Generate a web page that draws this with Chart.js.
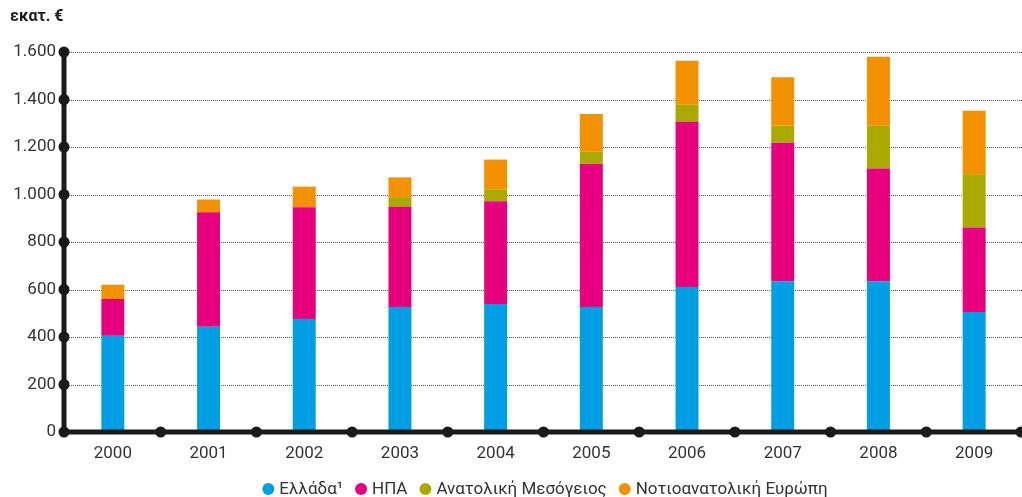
<!DOCTYPE html>
<html>
<head>
<meta charset="utf-8">
<script src="https://cdn.jsdelivr.net/npm/chart.js@4"></script>
<style>
  html, body { margin: 0; padding: 0; background: #fff; }
  #wrap { width: 1022px; height: 497px; }
</style>
</head>
<body>
<div id="wrap"><canvas id="investChart" width="1022" height="497"></canvas></div>
<script>
// Values (εκατ. €)
const years = ["2000", "2001", "2002", "2003", "2004", "2005", "2006", "2007", "2008", "2009"];
const greece = [405, 443, 476, 526, 539, 526, 611, 635, 635, 505];
const usa = [155, 482, 470, 422, 433, 604, 695, 583, 475, 356];
const eastMed = [0, 0, 0, 41, 50, 50, 72, 71, 179, 224];
const seEurope = [60, 54, 87, 83, 125, 159, 185, 205, 291, 268];
const yTicks = [0, 200, 400, 600, 800, 1000, 1200, 1400, 1600];

const fontFamily = "Roboto, 'Noto Sans', sans-serif";

function formatGreek(v) {
  return v.toString().replace(/\B(?=(\d{3})+(?!\d))/g, ".");
}

// Thick axes with round markers, dotted grid, unit label and legend
const axesPlugin = {
  id: "axesPlugin",
  beforeDatasetsDraw(chart) {
    const ctx = chart.ctx;
    const area = chart.chartArea;
    const y = chart.scales.y;
    ctx.save();
    ctx.strokeStyle = "#555";
    ctx.lineWidth = 1;
    ctx.setLineDash([1, 1]);
    yTicks.forEach((t) => {
      if (t === 0) return;
      const py = Math.round(y.getPixelForValue(t)) + 0.5;
      ctx.beginPath();
      ctx.moveTo(area.left, py);
      ctx.lineTo(chart.width, py);
      ctx.stroke();
    });
    ctx.restore();
  },
  afterDatasetsDraw(chart) {
    const ctx = chart.ctx;
    const area = chart.chartArea;
    const x = chart.scales.x;
    const y = chart.scales.y;
    const axisX = area.left - 1;
    const axisY = y.getPixelForValue(0);
    const step = x.getPixelForValue(1) - x.getPixelForValue(0);
    ctx.save();
    ctx.strokeStyle = "#1a1a1a";
    ctx.fillStyle = "#1a1a1a";
    ctx.lineWidth = 5;
    ctx.beginPath();
    ctx.moveTo(axisX, y.getPixelForValue(1600));
    ctx.lineTo(axisX, axisY);
    ctx.lineTo(chart.width, axisY);
    ctx.stroke();
    yTicks.forEach((t) => {
      ctx.beginPath();
      ctx.arc(axisX, y.getPixelForValue(t), 5.5, 0, Math.PI * 2);
      ctx.fill();
    });
    for (let i = 0; i < years.length; i++) {
      let bx = x.getPixelForValue(i) + step / 2;
      if (i === years.length - 1) bx = Math.min(bx, chart.width - 1);
      ctx.beginPath();
      ctx.arc(bx, axisY, 5.5, 0, Math.PI * 2);
      ctx.fill();
    }
    ctx.font = "bold 16px " + fontFamily;
    ctx.textAlign = "left";
    ctx.textBaseline = "middle";
    ctx.fillText("εκατ. €", 10, 17);

    // legend, centred under the plot
    const sets = chart.data.datasets;
    ctx.font = "17px " + fontFamily;
    const dot = 12, gapIn = 5, gapOut = 12;
    let total = 0;
    sets.forEach((d, i) => {
      total += dot + gapIn + ctx.measureText(d.label).width + (i < sets.length - 1 ? gapOut : 0);
    });
    let lx = 545 - total / 2;
    const ly = 489;
    sets.forEach((d) => {
      ctx.fillStyle = d.backgroundColor;
      ctx.beginPath();
      ctx.arc(lx + dot / 2, ly, dot / 2, 0, Math.PI * 2);
      ctx.fill();
      lx += dot + gapIn;
      ctx.fillStyle = "#333";
      ctx.fillText(d.label, lx, ly + 1);
      lx += ctx.measureText(d.label).width + gapOut;
    });
    ctx.restore();
  },
};

const ctx = document.getElementById("investChart").getContext("2d");
const investChart = new Chart(ctx, {
  type: "bar",
  data: {
    labels: years,
    datasets: [
      { label: "Ελλάδα¹", data: greece, backgroundColor: "#009FE3" },
      { label: "ΗΠΑ", data: usa, backgroundColor: "#E6007E" },
      { label: "Ανατολική Μεσόγειος", data: eastMed, backgroundColor: "#AAA900" },
      { label: "Νοτιοανατολική Ευρώπη", data: seEurope, backgroundColor: "#F39200" },
    ],
  },
  options: {
    responsive: false,
    animation: false,
    layout: { padding: { top: 52, left: 0, right: -3, bottom: 0 } },
    datasets: {
      bar: { categoryPercentage: 1, barPercentage: 0.24, borderWidth: 0 },
    },
    scales: {
      x: {
        stacked: true,
        grid: { display: false, drawTicks: false },
        border: { display: false },
        ticks: {
          color: "#333",
          font: { family: fontFamily, size: 17 },
          padding: 12,
          maxRotation: 0,
        },
        afterFit(scale) {
          scale.height = 65;
        },
      },
      y: {
        stacked: true,
        min: 0,
        max: 1600,
        grid: { display: false, drawTicks: false },
        border: { display: false },
        afterBuildTicks(scale) {
          scale.ticks = yTicks.map((v) => ({ value: v }));
        },
        ticks: {
          color: "#333",
          font: { family: fontFamily, size: 17 },
          padding: 9,
          callback: (v) => formatGreek(v),
        },
        afterFit(scale) {
          scale.width = 65;
        },
      },
    },
    plugins: {
      legend: { display: false },
      tooltip: { enabled: false },
    },
  },
  plugins: [axesPlugin],
});
</script>
</body>
</html>
